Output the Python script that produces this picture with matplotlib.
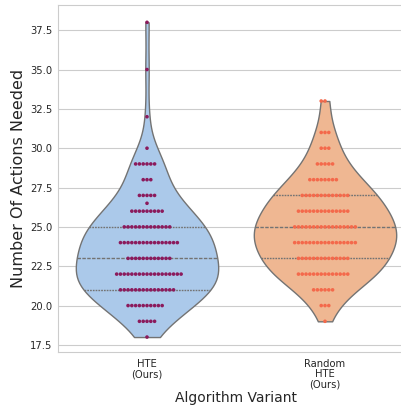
import numpy as np
import pandas as pd
import matplotlib
matplotlib.use("Agg")
import matplotlib.pyplot as plt
import seaborn as sns

variants = ["HTE\n(Ours)", "Random\nHTE\n(Ours)"]

# action counts and how many runs landed on each
hte_values = [18, 19, 20, 21, 22, 23, 24, 25, 26, 26.5, 27, 28, 29, 30, 32, 35, 38]
hte_counts = [1, 5, 10, 15, 18, 12, 16, 13, 9, 1, 5, 3, 6, 1, 1, 1, 1]
rand_values = [19, 20, 21, 22, 23, 24, 25, 26, 27, 28, 29, 30, 31, 33]
rand_counts = [1, 3, 6, 14, 14, 17, 17, 14, 13, 8, 5, 3, 3, 2]

violin_colors = ["#a1c9f4", "#ffb482"]
dot_colors = ["#8b1a5c", "#f4694b"]

df = pd.DataFrame({
    "variant": [variants[0]] * sum(hte_counts) + [variants[1]] * sum(rand_counts),
    "actions": np.concatenate([np.repeat(hte_values, hte_counts),
                               np.repeat(rand_values, rand_counts)]),
})

sns.set_style("whitegrid")
plt.rcParams['font.family'] = ['DejaVu Sans']

fig = plt.figure(figsize=(4.02, 4.07), dpi=100)
ax = fig.add_axes([58 / 402, 55 / 407, 356 / 402, 347 / 407])

sns.violinplot(data=df, x="variant", y="actions", hue="variant", palette=violin_colors,
               inner="quartile", cut=0, linewidth=1, legend=False, ax=ax)
sns.swarmplot(data=df, x="variant", y="actions", hue="variant", palette=dot_colors,
              size=2.6, legend=False, ax=ax)

ax.set_ylim(17.05, 39.1)
ax.set_xlabel("Algorithm Variant", fontsize=10, labelpad=1)
ax.set_ylabel("Number Of Actions Needed", fontsize=11.5, labelpad=3)
ax.tick_params(axis="y", labelsize=7.2, pad=0.5)
ax.tick_params(axis="x", labelsize=7.2, pad=1.5)
for lab in ax.get_xticklabels():
    lab.set_linespacing(1.05)
ax.grid(axis="x", visible=False)

fig.savefig("out.png", dpi=100)
